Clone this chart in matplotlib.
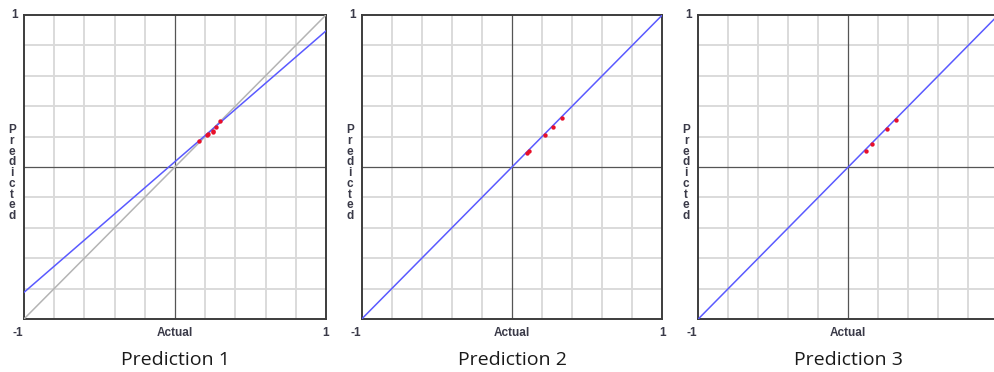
import numpy as np
import matplotlib.pyplot as plt

# Actual vs predicted scatter for three models, axes -1..1
titles = ['Prediction 1', 'Prediction 2', 'Prediction 3']

actual_1 = [0.16, 0.21, 0.22, 0.25, 0.25, 0.27, 0.30]
predicted_1 = [0.17, 0.21, 0.22, 0.23, 0.24, 0.26, 0.30]
actual_2 = [0.10, 0.115, 0.22, 0.27, 0.33]
predicted_2 = [0.095, 0.105, 0.21, 0.26, 0.32]
actual_3 = [0.115, 0.155, 0.255, 0.32]
predicted_3 = [0.105, 0.15, 0.25, 0.31]

# fitted regression lines (slope, intercept)
fit_slope = [0.86, 1.0, 1.0]
fit_intercept = [0.035, 0.0, 0.0]
show_identity = [True, False, False]

actuals = [actual_1, actual_2, actual_3]
predicteds = [predicted_1, predicted_2, predicted_3]

fig = plt.figure(figsize=(9.94, 3.72), dpi=100)
lefts = [0.0241, 0.3639, 0.7025]
widths = [0.3038, 0.3024, 0.3018]
txt_color = '#3a3a48'
lbl = dict(fontsize=8.5, family='Liberation Sans', color=txt_color, fontweight='bold')

for i in range(3):
    ax = fig.add_axes([lefts[i], 0.1425, widths[i], 0.8172])
    ax.set_xlim(-1, 1)
    ax.set_ylim(-1, 1)
    ticks = np.linspace(-1, 1, 11)
    for t in ticks[1:-1]:
        if abs(t) < 1e-9:
            continue
        ax.axvline(t, color='#dadada', lw=1.4, zorder=1)
        ax.axhline(t, color='#dadada', lw=1.4, zorder=1)
    ax.axvline(0, color='#555555', lw=0.9, zorder=2)
    ax.axhline(0, color='#555555', lw=0.9, zorder=2)

    xs = np.array([-1, 1])
    if show_identity[i]:
        ax.plot(xs, xs, color='#b4b4b4', lw=1.1, zorder=3)
    ax.plot(xs, fit_slope[i] * xs + fit_intercept[i], color='#5a5aff', lw=1.1, zorder=4)
    ax.scatter(actuals[i], predicteds[i], s=10, color='#e8102a', zorder=5, linewidths=0)

    ax.set_xticks([])
    ax.set_yticks([])
    for s in ax.spines.values():
        s.set_color('#3c3c3c')
        s.set_linewidth(1.4)

    ax.text(-0.02, 1.0, '1', transform=ax.transAxes, ha='right', va='center', **lbl)
    ax.text(-0.02, -0.025, '-1', transform=ax.transAxes, ha='center', va='top', **lbl)
    if i < 2:
        ax.text(1.0, -0.025, '1', transform=ax.transAxes, ha='center', va='top', **lbl)
    ax.text(0.5, -0.025, 'Actual', transform=ax.transAxes, ha='center', va='top', **lbl)
    ax.text(-0.04, 0.48, '\n'.join('Predicted'), transform=ax.transAxes, ha='center',
            va='center', linespacing=0.86, **lbl)
    ax.text(0.5, -0.105, titles[i], transform=ax.transAxes, ha='center', va='top',
            fontsize=14, family='Open Sans', color='#1a1a1a')

fig.savefig('out.png', dpi=100)
